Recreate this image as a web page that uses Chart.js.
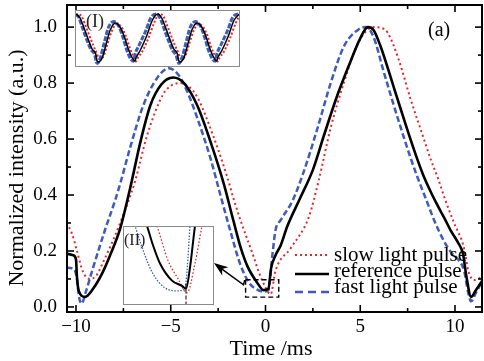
<!DOCTYPE html>
<html>
<head>
<meta charset="utf-8">
<script src="https://cdn.jsdelivr.net/npm/chart.js@4.4.1/dist/chart.umd.min.js"></script>
<style>
  html,body{margin:0;padding:0;background:#fff;}
  #wrap{position:relative;width:484px;height:361px;overflow:hidden;background:#fff;}
  #wrap canvas{position:absolute;}
  #main{left:0;top:0;}
  #ins1{left:75px;top:10px;background:#fff;}
  #ins2{left:123px;top:226px;background:#fff;}
</style>
</head>
<body>
<div id="wrap">
  <canvas id="main" width="484" height="361"></canvas>
  <canvas id="ins1" width="165" height="57"></canvas>
  <canvas id="ins2" width="91" height="79"></canvas>
</div>
<script>
// ---------- main panel data (time in ms, normalized intensity) ----------
const slowT = [-10.5,-10.2,-9.95,-9.63,-9.26,-8.9,-8.57,-8.0,-7.5,-7.25,-6.88,-6.24,-5.4,-5.0,-4.5,-4.0,-3.6,-2.75,-2.0,-1.7,-1.32,-0.63,-0.3,0.0,0.27,0.53,1.33,2.28,2.8,3.44,4.13,4.87,5.7,6.2,6.45,7.0,7.67,8.36,8.73,9.1,9.5,9.95,10.48,10.7,11.0,11.5];
const slowV = [0.30,0.26,0.20,0.125,0.10,0.115,0.16,0.245,0.33,0.375,0.45,0.615,0.76,0.79,0.80,0.785,0.75,0.61,0.46,0.39,0.31,0.18,0.115,0.07,0.045,0.13,0.21,0.32,0.45,0.64,0.80,0.94,1.0,0.995,0.98,0.89,0.74,0.60,0.525,0.46,0.38,0.30,0.21,0.13,0.096,0.11];

const refT = [-10.5,-10.15,-10.0,-9.95,-9.84,-9.52,-9.1,-8.62,-8.2,-7.67,-7.14,-6.6,-6.08,-5.5,-4.87,-4.3,-3.6,-2.9,-2.2,-1.7,-1.3,-0.95,-0.42,-0.1,0.15,0.3,0.53,0.8,1.16,1.8,2.5,3.07,3.81,4.5,5.0,5.4,5.7,6.08,6.77,7.5,8.0,8.36,8.8,9.1,9.42,9.8,10.16,10.42,10.6,10.85,11.1,11.5];
const refV = [0.19,0.185,0.17,0.107,0.054,0.036,0.065,0.12,0.185,0.28,0.425,0.59,0.72,0.795,0.82,0.80,0.72,0.59,0.44,0.31,0.21,0.145,0.085,0.06,0.065,0.14,0.185,0.22,0.29,0.385,0.49,0.61,0.76,0.88,0.96,1.0,0.99,0.93,0.785,0.63,0.53,0.465,0.40,0.36,0.32,0.27,0.23,0.19,0.11,0.036,0.06,0.10];

const fastT = [-10.5,-10.1,-9.95,-9.85,-9.7,-9.5,-9.1,-8.47,-7.94,-7.67,-7.14,-6.45,-5.7,-5.1,-4.6,-4.1,-3.6,-2.9,-2.38,-1.85,-1.32,-0.9,-0.63,-0.1,0.15,0.37,0.53,0.8,1.43,2.0,2.75,3.44,4.13,4.87,5.3,5.7,6.24,7.0,7.67,8.04,8.5,8.9,9.42,9.8,10.16,10.48,10.7,10.85,11.1,11.5];
const fastV = [0.14,0.135,0.10,0.04,0.012,0.05,0.14,0.275,0.38,0.44,0.57,0.72,0.82,0.853,0.83,0.765,0.675,0.53,0.40,0.27,0.15,0.09,0.07,0.055,0.06,0.19,0.275,0.31,0.38,0.48,0.64,0.80,0.93,0.99,1.0,0.965,0.84,0.67,0.53,0.46,0.38,0.31,0.235,0.195,0.17,0.13,0.05,0.02,0.05,0.10];

const seriesLabels = ['slow light pulse','reference pulse','fast light pulse'];
const xTicks = [-10,-5,0,5,10];
const xMinor = [-7.5,-2.5,2.5,7.5];
const yTicks = [0.0,0.2,0.4,0.6,0.8,1.0];
const yMinor = [0.1,0.3,0.5,0.7,0.9];
const xTitle = 'Time /ms';
const yTitle = 'Normalized intensity (a.u.)';
const panelTag = '(a)';

// ---------- inset (I): long trace ----------
const insetRefT = [0,1,2,3,4,4.9,5.2,5.5,6.5,7.5,8.5,9.8,11,12,13,14,14.6,15,16,17.5,19,20.3,21.3,22.3,23.3,24.3,25.2,25.5,25.8,26.8,27.8,28.8,30.1,31.3,32.3,33.3,34.3,34.9,35.3,36.3,37.8,39.3,40.6];
const insetRefV = [1.0,0.92,0.72,0.50,0.30,0.20,0.07,0.04,0.12,0.40,0.68,0.82,0.73,0.55,0.30,0.12,0.06,0.14,0.28,0.55,0.88,1.0,0.92,0.72,0.50,0.30,0.20,0.07,0.04,0.12,0.40,0.68,0.82,0.73,0.55,0.30,0.12,0.06,0.14,0.28,0.55,0.88,1.0];
const insetSlowT = [0,0.4,1.4,2.4,3.4,4.4,5.2,5.6,6.1,6.9,7.9,8.9,10.1,11.3,12.3,13.3,14.3,14.9,15.4,16.4,17.9,19.4,20.7,21.7,22.7,23.7,24.7,25.5,25.9,26.4,27.2,28.2,29.2,30.4,31.6,32.6,33.6,34.6,35.2,35.7,36.7,38.2,39.7,40.6];
const insetSlowV = [0.98,1.0,0.95,0.76,0.55,0.35,0.21,0.12,0.10,0.17,0.42,0.66,0.80,0.74,0.58,0.34,0.15,0.05,0.13,0.24,0.50,0.82,1.0,0.96,0.76,0.55,0.35,0.21,0.12,0.10,0.17,0.42,0.66,0.80,0.74,0.58,0.34,0.15,0.05,0.13,0.24,0.50,0.82,0.96];
const insetFastT = [0,0.7,1.7,2.7,3.7,4.7,5.0,5.3,6.1,7.1,8.1,9.4,10.6,11.6,12.6,13.6,14.3,14.7,15.7,17.2,18.7,20.0,21.0,22.0,23.0,24.0,24.9,25.3,25.6,26.4,27.4,28.4,29.7,30.9,31.9,32.9,33.9,34.6,35.0,36.0,37.5,39.0,40.3,40.8];
const insetFastV = [0.99,0.93,0.70,0.48,0.29,0.17,0.05,0.01,0.14,0.45,0.74,0.85,0.76,0.55,0.28,0.10,0.055,0.20,0.38,0.64,0.94,1.0,0.90,0.68,0.46,0.27,0.17,0.05,0.01,0.14,0.45,0.74,0.85,0.76,0.55,0.28,0.10,0.055,0.20,0.38,0.64,0.94,1.0,0.98];

// ---------- inset (II): magnified minimum near t = 0 ----------
const iiRefT = [-0.7,-0.6,-0.5,-0.383,-0.183,-0.017,0.05,0.117,0.2,0.24];
const iiRefV = [0.125,0.11,0.0903,0.0716,0.054,0.0487,0.0456,0.0674,0.11,0.125];
const iiSlowT = [-0.5,-0.433,-0.25,-0.083,0.067,0.2,0.317,0.37];
const iiSlowV = [0.12,0.11,0.0747,0.056,0.0414,0.0716,0.11,0.125];
const iiFastT = [-0.86,-0.8,-0.683,-0.5,-0.3,-0.1,0.033,0.067,0.117,0.13];
const iiFastV = [0.12,0.11,0.088,0.061,0.0466,0.0435,0.0456,0.064,0.11,0.12];
const iiMarkT = [0.05,0.05];
const iiMarkV = [0.051,0.02];

// ---------- styles ----------
const SERIF = "'Liberation Serif','DejaVu Serif',serif";
const RED = '#e8262b';
const BLUE = '#3d5cbc';
const pts = (t, v) => t.map((x, i) => ({x, y: v[i]}));
const fmtX = v => (v < 0 ? '\u2212' + Math.abs(v) : String(v));

const decor = {
  id: 'decor',
  afterDraw(chart) {
    const {ctx, chartArea: a} = chart;
    const sx = chart.scales.x, sy = chart.scales.y;
    const seg = (x1, y1, x2, y2) => { ctx.beginPath(); ctx.moveTo(x1, y1); ctx.lineTo(x2, y2); ctx.stroke(); };
    ctx.save();
    ctx.strokeStyle = '#000';
    ctx.lineWidth = 2;
    ctx.strokeRect(a.left, a.top, a.right - a.left, a.bottom - a.top);
    ctx.lineWidth = 1.6;
    xTicks.forEach(v => { const p = sx.getPixelForValue(v); seg(p, a.bottom, p, a.bottom - 7); seg(p, a.top, p, a.top + 7); });
    xMinor.forEach(v => { const p = sx.getPixelForValue(v); seg(p, a.bottom, p, a.bottom - 4); seg(p, a.top, p, a.top + 4); });
    yTicks.forEach(v => { const p = sy.getPixelForValue(v); seg(a.left, p, a.left + 7, p); seg(a.right, p, a.right - 7, p); });
    yMinor.forEach(v => { const p = sy.getPixelForValue(v); seg(a.left, p, a.left + 4, p); seg(a.right, p, a.right - 4, p); });

    // dashed zoom box around the t=0 minimum
    const bx0 = sx.getPixelForValue(-1.05), bx1 = sx.getPixelForValue(0.7);
    const by0 = sy.getPixelForValue(0.097), by1 = sy.getPixelForValue(0.035);
    ctx.lineWidth = 1.4;
    ctx.setLineDash([5, 3]);
    ctx.strokeRect(bx0, by0, bx1 - bx0, by1 - by0);
    ctx.setLineDash([]);

    // arrow pointing to inset (II)
    const tx = sx.getPixelForValue(-1.16), ty = sy.getPixelForValue(0.079);
    const hx = sx.getPixelForValue(-2.72), hy = sy.getPixelForValue(0.157);
    ctx.lineWidth = 1.5;
    ctx.beginPath(); ctx.moveTo(bx0, by0 + 1); ctx.lineTo(tx + 1, by0 + 1); ctx.lineTo(tx, ty); ctx.lineTo(hx + 8, hy + 6); ctx.stroke();
    const ang = Math.atan2(ty - hy, tx - hx);
    ctx.beginPath();
    ctx.moveTo(hx, hy);
    ctx.lineTo(hx + 15 * Math.cos(ang - 0.35), hy + 15 * Math.sin(ang - 0.35));
    ctx.lineTo(hx + 10 * Math.cos(ang), hy + 10 * Math.sin(ang));
    ctx.lineTo(hx + 15 * Math.cos(ang + 0.35), hy + 15 * Math.sin(ang + 0.35));
    ctx.closePath();
    ctx.fillStyle = '#000';
    ctx.fill();

    // legend
    const rows = [{line: 255, text: 261}, {line: 274, text: 277}, {line: 292, text: 293}];
    ctx.font = '21px ' + SERIF;
    ctx.textAlign = 'left';
    ctx.textBaseline = 'alphabetic';
    [0, 1, 2].forEach((di, k) => {
      const ds = chart.data.datasets[di];
      ctx.strokeStyle = ds.borderColor;
      ctx.lineWidth = ds.borderWidth;
      ctx.setLineDash(di === 2 ? [8, 5] : (ds.borderDash || []));
      seg(295, rows[k].line, 329, rows[k].line);
      ctx.setLineDash([]);
      ctx.fillStyle = '#000';
      ctx.fillText(ds.label, 334, rows[k].text);
    });

    // panel tag
    ctx.font = '20px ' + SERIF;
    ctx.fillText(panelTag, 428, 36);

    // axis titles
    ctx.font = '22px ' + SERIF;
    ctx.textAlign = 'center';
    ctx.fillText(xTitle, 271, 355);
    ctx.save();
    ctx.translate(17, 168);
    ctx.rotate(-Math.PI / 2);
    ctx.textBaseline = 'middle';
    ctx.fillText(yTitle, 0, 0);
    ctx.restore();
    ctx.restore();
  }
};

new Chart(document.getElementById('main'), {
  type: 'line',
  data: {
    datasets: [
      {label: seriesLabels[0], data: pts(slowT, slowV), borderColor: RED, borderWidth: 2, borderDash: [2, 3], order: 2},
      {label: seriesLabels[1], data: pts(refT, refV), borderColor: '#000', borderWidth: 2.6, order: 0},
      {label: seriesLabels[2], data: pts(fastT, fastV), borderColor: BLUE, borderWidth: 2.5, borderDash: [6, 3], order: 1}
    ]
  },
  options: {
    responsive: false,
    animation: false,
    layout: {padding: {left: 0, right: 2, top: 5, bottom: 0}},
    elements: {point: {radius: 0}, line: {cubicInterpolationMode: 'monotone', fill: false}},
    plugins: {legend: {display: false}, tooltip: {enabled: false}},
    scales: {
      x: {
        type: 'linear', min: -10.475, max: 11.425,
        afterBuildTicks: s => { s.ticks = xTicks.map(v => ({value: v})); },
        afterFit: s => { s.height = 49; s.paddingLeft = 0; s.paddingRight = 0; },
        grid: {display: false, drawTicks: false},
        border: {display: false},
        ticks: {font: {family: SERIF, size: 19}, color: '#000', padding: 4, maxRotation: 0, autoSkip: false, callback: v => fmtX(v)}
      },
      y: {
        type: 'linear', min: -0.018, max: 1.079,
        afterBuildTicks: s => { s.ticks = yTicks.map(v => ({value: v})); },
        afterFit: s => { s.width = 67; s.paddingTop = 0; s.paddingBottom = 0; },
        grid: {display: false, drawTicks: false},
        border: {display: false},
        ticks: {font: {family: SERIF, size: 19}, color: '#000', padding: 10, autoSkip: false, callback: v => Number(v).toFixed(1)}
      }
    }
  },
  plugins: [decor]
});

const insetFrame = (tag, size, tx, ty) => ({
  id: 'insetFrame',
  afterDraw(chart) {
    const {ctx, width, height} = chart;
    ctx.save();
    ctx.strokeStyle = '#8a8a8a';
    ctx.lineWidth = 1;
    ctx.strokeRect(0.5, 0.5, width - 1, height - 1);
    ctx.fillStyle = '#222';
    ctx.font = size + 'px ' + SERIF;
    ctx.textAlign = 'left';
    ctx.textBaseline = 'alphabetic';
    ctx.fillText(tag, tx, ty);
    ctx.restore();
  }
});

const insetOptions = (xmin, xmax, ymin, ymax) => ({
  responsive: false,
  animation: false,
  layout: {padding: 0},
  elements: {point: {radius: 0}, line: {cubicInterpolationMode: 'monotone', fill: false}},
  plugins: {legend: {display: false}, tooltip: {enabled: false}},
  scales: {
    x: {type: 'linear', min: xmin, max: xmax, display: false},
    y: {type: 'linear', min: ymin, max: ymax, display: false}
  }
});

new Chart(document.getElementById('ins1'), {
  type: 'line',
  data: {
    datasets: [
      {label: seriesLabels[0], data: pts(insetSlowT, insetSlowV), borderColor: RED, borderWidth: 2, borderDash: [2, 2], order: 2},
      {label: seriesLabels[1], data: pts(insetRefT, insetRefV), borderColor: '#000', borderWidth: 1.5, order: 0},
      {label: seriesLabels[2], data: pts(insetFastT, insetFastV), borderColor: BLUE, borderWidth: 3, borderDash: [5, 1.5], order: 1}
    ]
  },
  options: insetOptions(-0.25, 40.75, -0.06, 1.08),
  plugins: [insetFrame('(I)', 18, 11, 17)]
});

new Chart(document.getElementById('ins2'), {
  type: 'line',
  data: {
    datasets: [
      {label: seriesLabels[0], data: pts(iiSlowT, iiSlowV), borderColor: RED, borderWidth: 1.3, borderDash: [1.5, 2], order: 2},
      {label: seriesLabels[1], data: pts(iiRefT, iiRefV), borderColor: '#000', borderWidth: 2, order: 0},
      {label: seriesLabels[2], data: pts(iiFastT, iiFastV), borderColor: BLUE, borderWidth: 1.3, borderDash: [1.5, 1.5], order: 1},
      {label: 'marker', data: pts(iiMarkT, iiMarkV), borderColor: '#000', borderWidth: 1, borderDash: [4, 2], order: 0, cubicInterpolationMode: 'default', tension: 0}
    ]
  },
  options: insetOptions(-1.0, 0.517, 0.029, 0.11),
  plugins: [insetFrame('(II)', 16, 1, 19)]
});
</script>
</body>
</html>
